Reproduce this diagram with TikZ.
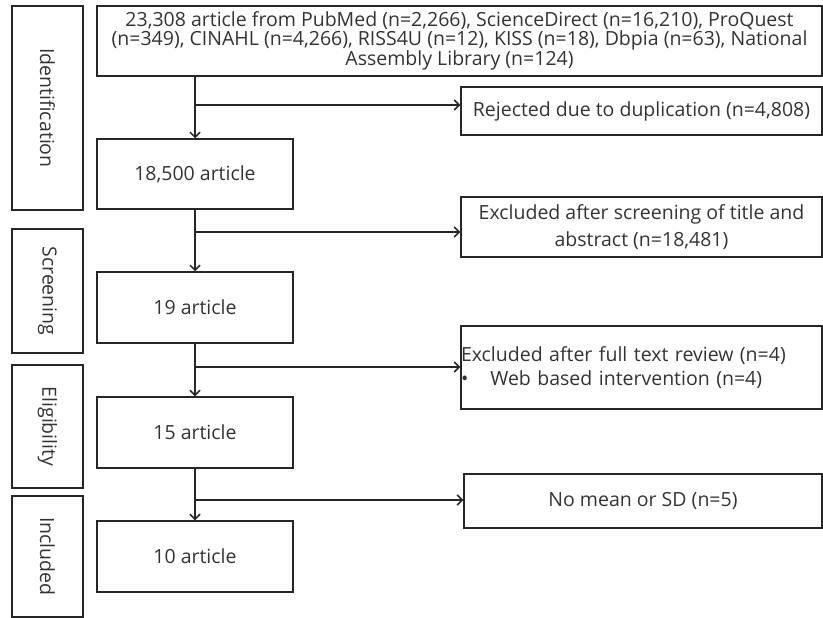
\documentclass[tikz,border=0pt]{standalone}
\usepackage{fontspec}
\setmainfont{Open Sans}
\usetikzlibrary{arrows.meta}
\definecolor{linec}{HTML}{262626}
\definecolor{textc}{HTML}{333333}
\tikzset{
	box/.style={shape=rectangle,draw=linec,line width=1.5pt,inner sep=0pt,align=center,text=textc,font=\fontsize{19.5}{19}\selectfont},
	stage/.style={box,rotate=-90,minimum height=71pt},
	flow/.style={draw=linec,line width=1.5pt,-{Straight Barb[length=5pt,width=10pt,line width=1.5pt]}}
}
\begin{document}
\begin{tikzpicture}[x=1pt,y=-1pt]
	\useasboundingbox (0,0) rectangle (823,618);
	
	\node[stage,minimum width=204pt] (ident) at (47.5, 108)     {Identification};
	\node[stage,minimum width=124pt] (screen) at (47.5, 291)     {Screening};
	\node[stage,minimum width=123pt] (elig) at (47.5, 426.5)     {Eligibility};
	\node[stage,minimum width=121pt] (incl) at (47.5, 556.5)     {Included};
	
	\node[box,minimum width=725pt,minimum height=70pt] (src) at (459.5, 41)     {23,308 article from PubMed (n=2,266), ScienceDirect (n=16,210), ProQuest\\(n=349), CINAHL (n=4,266), RISS4U (n=12), KISS (n=18), Dbpia (n=63), National\\Assembly Library (n=124)};
	
	\node[box,minimum width=196pt,minimum height=70pt] (a18500) at (195, 174)     {18,500 article};
	\node[box,minimum width=196pt,minimum height=71pt] (a19) at (195, 307.5)     {19 article};
	\node[box,minimum width=196pt,minimum height=71pt] (a15) at (195, 432.5)     {15 article};
	\node[box,minimum width=196pt,minimum height=71pt] (a10) at (195, 556.5)     {10 article};
	
	\node[box,minimum width=361pt,minimum height=48pt] (dup) at (641.5, 111)     {Rejected due to duplication (n=4,808)};
	\node[box,minimum width=361pt,minimum height=60pt] (title) at (641.5, 227)     {Excluded after screening of title and\\[6pt]abstract (n=18,481)};
	\node[box,text width=361pt,align=left,minimum height=83pt] (full) at (641.5, 367.5)     {Excluded after full text review (n=4)\\[5pt]•\hspace{22pt}Web based intervention (n=4)};
	\node[box,minimum width=358pt,minimum height=54pt] (nomean) at (643, 501)     {No mean or SD (n=5)};
	
	\coordinate (b1) at (195, 105);
	\coordinate (b2) at (195, 232);
	\coordinate (b3) at (195, 367);
	\coordinate (b4) at (195, 500);
	
	\draw[flow] (src.south -| a18500.north) -- (a18500.north);
	\draw[flow] (a18500.south) -- (a19.north);
	\draw[flow] (a19.south) -- (a15.north);
	\draw[flow] (a15.south) -- (a10.north);
	
	\draw[flow] (b1) -- (b1 -| dup.west);
	\draw[flow] (b2) -- (b2 -| title.west);
	\draw[flow] (b3) -- (b3 -| full.west);
	\draw[flow] (b4) -- (b4 -| nomean.west);

\end{tikzpicture}
\end{document}
